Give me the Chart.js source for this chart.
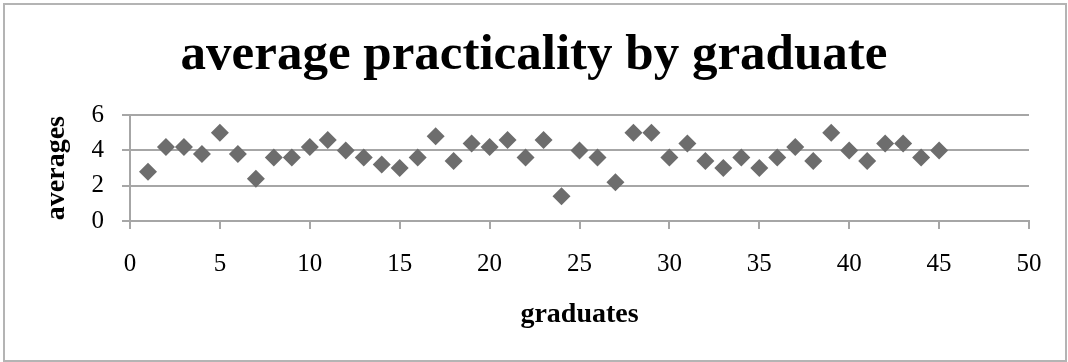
<!DOCTYPE html>
<html>
<head>
<meta charset="utf-8">
<script src="https://cdn.jsdelivr.net/npm/chart.js@4/dist/chart.umd.min.js"></script>
<style>
  body { margin: 0; background: #fff; }
  #wrap { position: relative; width: 1068px; height: 362px; }
  #frame { position: absolute; left: 3px; top: 3px; width: 1060px; height: 355px; border: 2px solid #b4b4b4; pointer-events: none; }
</style>
</head>
<body>
<div id="wrap">
  <canvas id="scatter-chart" width="1068" height="362"></canvas>
  <div id="frame"></div>
</div>
<script>
var graduates = [1, 2, 3, 4, 5, 6, 7, 8, 9, 10, 11, 12, 13, 14, 15, 16, 17, 18, 19, 20, 21, 22, 23, 24, 25, 26, 27, 28, 29, 30, 31, 32, 33, 34, 35, 36, 37, 38, 39, 40, 41, 42, 43, 44, 45];
var averages = [2.8, 4.2, 4.2, 3.8, 5.0, 3.8, 2.4, 3.6, 3.6, 4.2, 4.6, 4.0, 3.6, 3.2, 3.0, 3.6, 4.8, 3.4, 4.4, 4.2, 4.6, 3.6, 4.6, 1.4, 4.0, 3.6, 2.2, 5.0, 5.0, 3.6, 4.4, 3.4, 3.0, 3.6, 3.0, 3.6, 4.2, 3.4, 5.0, 4.0, 3.4, 4.4, 4.4, 3.6, 4.0];
var xTicks = [0, 5, 10, 15, 20, 25, 30, 35, 40, 45, 50];
var yTicks = [0, 2, 4, 6];

var points = graduates.map(function(g, i) { return {x: g, y: averages[i]}; });
var serif = "'Liberation Serif', 'DejaVu Serif', serif";
var gridGray = '#a6a6a6';

new Chart(document.getElementById('scatter-chart'), {
  type: 'scatter',
  data: {
    datasets: [{
      data: points,
      pointStyle: 'rectRot',
      pointRadius: 9,
      pointHoverRadius: 9,
      backgroundColor: '#6d6d6d',
      borderColor: '#6d6d6d',
      borderWidth: 0
    }]
  },
  options: {
    responsive: false,
    animation: false,
    layout: { padding: 0 },
    plugins: {
      legend: { display: false },
      tooltip: { enabled: false },
      title: {
        display: true,
        text: 'average practicality by graduate',
        color: '#000',
        font: { family: serif, size: 51, weight: 'bold' },
        padding: { top: 25, bottom: 29 }
      }
    },
    scales: {
      x: {
        type: 'linear',
        min: xTicks[0],
        max: xTicks[xTicks.length - 1],
        afterBuildTicks: function(scale) { scale.ticks = xTicks.map(function(v) { return {value: v}; }); },
        afterFit: function(scale) { scale.height = 141; scale.paddingRight = 39; },
        grid: { drawOnChartArea: false, drawTicks: true, tickLength: 8, color: gridGray, lineWidth: 2 },
        border: { color: gridGray, width: 2 },
        ticks: { color: '#000', font: { family: serif, size: 25 }, padding: 20, maxRotation: 0 },
        title: {
          display: true,
          text: 'graduates',
          color: '#000',
          font: { family: serif, size: 28, weight: 'bold' },
          padding: { top: 0, bottom: 30 }
        }
      },
      y: {
        min: yTicks[0],
        max: yTicks[yTicks.length - 1],
        afterBuildTicks: function(scale) { scale.ticks = yTicks.map(function(v) { return {value: v}; }); },
        afterFit: function(scale) { scale.width = 130; },
        grid: { drawOnChartArea: true, drawTicks: true, tickLength: 8, color: gridGray, lineWidth: 2 },
        border: { color: gridGray, width: 2 },
        ticks: { color: '#000', font: { family: serif, size: 25 }, padding: 18 },
        title: {
          display: true,
          text: 'averages',
          color: '#000',
          font: { family: serif, size: 28, weight: 'bold' },
          padding: { top: 40, bottom: 0 }
        }
      }
    }
  }
});
</script>
</body>
</html>
